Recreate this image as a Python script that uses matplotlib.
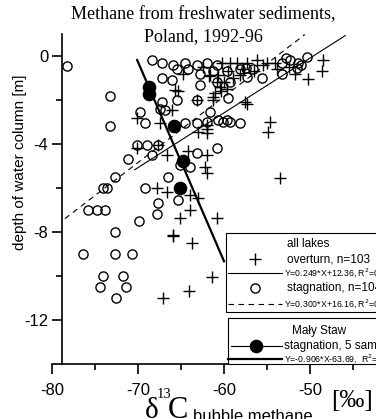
import matplotlib.pyplot as plt
from matplotlib.lines import Line2D
from matplotlib.patches import Rectangle
from matplotlib.ticker import MultipleLocator
import numpy as np

plt.rcParams["axes.unicode_minus"] = False

SANS = "Liberation Sans"
SERIF = "Liberation Serif"

# all lakes, overturn (crosses)
over_x = [-60.2, -59.3, -58.5, -57.3, -56.2, -55.0, -54.1, -48.5, -48.6, -50.2,
          -60.7, -59.0, -58.1, -61.6, -65.3, -61.1, -60.8, -65.7, -63.1, -61.3,
          -57.6, -57.3, -54.7, -54.9, -53.5, -70.1, -67.4, -66.0, -63.0, -62.0,
          -62.0, -70.1, -67.7, -66.6, -64.2, -62.0, -62.2, -62.0, -67.8, -66.6,
          -64.0, -63.0, -64.0, -65.1, -60.8, -65.9, -65.9, -63.7, -61.4, -64.1,
          -67.1, -62.5, -61.8, -60.0, -59.5, -57.8, -56.5, -55.5, -53.8, -52.5,
          -51.8, -64.8, -60.3, -59.6, -61.3, -60.5, -62.0]
over_y = [-0.3, -0.3, -0.3, -0.3, -0.2, -0.3, -0.3, -0.2, -0.7, -1.05,
          -0.85, -1.0, -0.85, -0.85, -1.6, -1.7, -1.2, -1.55, -2.0, -2.0,
          -2.1, -2.2, -3.0, -3.45, -5.55, -2.8, -3.05, -2.45, -3.45, -3.5,
          -3.15, -4.2, -4.05, -4.5, -4.3, -4.5, -5.05, -5.3, -6.0, -6.2,
          -6.3, -6.45, -7.0, -7.35, -7.35, -8.15, -8.2, -8.5, -10.05, -10.7,
          -11.0, -0.5, -0.9, -1.2, -0.7, -0.6, -0.7, -0.4, -0.6, -0.5,
          -0.8, -0.8, -1.6, -1.5, -1.85, -1.4, -3.3]

# all lakes, stagnation (open circles)
stag_x = [-68.4, -67.2, -65.9, -64.5, -63.1, -62.0, -60.8, -65.5, -64.2, -62.8,
          -61.3, -59.7, -58.1, -56.6, -55.6, -53.3, -52.3, -51.4, -50.3, -53.3,
          -51.5, -67.2, -66.0, -62.8, -60.8, -59.3, -57.3, -78.3, -73.3, -67.2,
          -65.5, -63.1, -59.5, -67.4, -69.8, -69.2, -66.9, -73.3, -64.5, -63.1,
          -62.0, -60.7, -59.7, -61.6, -58.1, -59.3, -60.1, -70.1, -69.0, -67.7,
          -71.2, -68.4, -63.1, -60.8, -65.1, -64.0, -66.5, -72.7, -74.1, -73.6,
          -69.2, -65.3, -67.7, -67.8, -69.9, -75.8, -74.8, -73.8, -72.7, -76.4,
          -72.7, -70.7, -74.1, -71.7, -74.4, -71.4, -72.6, -52.8, -51.0, -57.5]
stag_y = [-0.2, -0.3, -0.4, -0.3, -0.4, -0.3, -0.4, -0.6, -0.6, -0.8,
          -0.7, -0.7, -0.6, -0.6, -1.0, -0.3, -0.2, -0.3, -0.05, -0.8,
          -0.55, -1.0, -1.1, -1.3, -1.2, -1.2, -0.95, -0.45, -1.8, -2.1,
          -2.0, -2.0, -1.9, -2.4, -2.55, -3.05, -2.45, -3.2, -3.05, -3.05,
          -3.0, -2.9, -2.9, -2.55, -3.05, -3.0, -3.0, -4.05, -4.05, -4.05,
          -4.7, -4.5, -4.4, -4.2, -4.95, -5.05, -5.5, -5.5, -6.0, -6.0,
          -6.0, -6.55, -6.7, -7.2, -7.5, -7.0, -7.0, -7.0, -8.0, -9.0,
          -9.0, -9.0, -10.0, -10.0, -10.5, -10.5, -11.0, -0.1, -0.4, -0.55]

# Maly Staw, stagnation (filled circles)
maly_x = [-68.7, -68.7, -65.8, -64.8, -65.1]
maly_y = [-1.41, -1.73, -3.18, -4.77, -6.0]

# regression lines: (slope, intercept, x range)
fit_over = (0.249, 12.36, (-70.4, -45.9))
fit_stag = (0.300, 16.16, (-78.5, -50.6))
fit_maly = (-0.906, -63.69, (-70.1, -60.0))

W, H = 376, 419
fig = plt.figure(figsize=(W / 100, H / 100), dpi=100)


def fx(px):
    return px / W


def fy(py):
    return 1 - py / H


ax = fig.add_axes([0, fy(364), 1, fy(20) - fy(364)])
ax.set_xlim(-86.05, -42.33)
ax.set_ylim(-14.0, 1.64)

for (a, b, (x0, x1)), ls, lw in [(fit_over, "-", 0.8), (fit_stag, (0, (5, 4)), 0.8),
                                 (fit_maly, "-", 1.6)]:
    xs = np.array([x0, x1])
    ax.plot(xs, a * xs + b, color="black", linestyle=ls, lw=lw, zorder=2)

ax.plot(stag_x, stag_y, "o", mfc="none", mec="black", ms=6.6, mew=1.0, zorder=3)
ax.plot(over_x, over_y, "+", color="black", ms=9, mew=1.0, zorder=3)
ax.plot(maly_x, maly_y, "o", color="black", ms=8.8, zorder=4)

for s in ["top", "right"]:
    ax.spines[s].set_visible(False)
ax.spines["left"].set_position(("data", -78.88))
ax.spines["left"].set_bounds(-14.0, 1.0)
ax.spines["bottom"].set_bounds(-80, -40)
for s in ["left", "bottom"]:
    ax.spines[s].set_linewidth(1.2)

ax.set_xticks([-80, -70, -60, -50])
ax.xaxis.set_minor_locator(MultipleLocator(5))
ax.set_yticks([0, -4, -8, -12])
ax.set_yticks([-2, -6, -10], minor=True)
ax.set_xticks([-75, -65, -55, -45], minor=True)
ax.tick_params(which="major", direction="out", length=7.5, width=1.2, labelsize=12)
ax.tick_params(which="minor", direction="out", length=4.3, width=1.2)
ax.tick_params(axis="x", pad=6)
ax.tick_params(axis="y", pad=2)
for lab in ax.get_xticklabels() + ax.get_yticklabels():
    lab.set_fontfamily(SANS)

# title
fig.text(fx(203), fy(15), "Methane from freshwater sediments,", family=SERIF,
         fontsize=13, ha="center", va="center")
fig.text(fx(203), fy(37), "Poland, 1992-96", family=SERIF,
         fontsize=13, ha="center", va="center")

# axis labels
fig.text(fx(20), fy(162), "depth of water column [m]", family=SANS, fontsize=11,
         rotation=90, ha="center", va="center")
fig.text(fx(145), fy(418), "\u03b4", family=SERIF, fontsize=21, ha="left", va="baseline")
fig.text(fx(157), fy(398), "13", family=SERIF, fontsize=10.5, ha="left", va="baseline")
fig.text(fx(168), fy(418), "C", family=SERIF, fontsize=22, ha="left", va="baseline")
fig.text(fx(193), fy(421), "bubble methane", family=SANS, fontsize=12, ha="left",
         va="baseline")
fig.text(fx(352), fy(401), "[\u2030]", family=SERIF, fontsize=18, ha="center",
         va="center")

# legend box 1: all lakes
fig.add_artist(Rectangle((fx(226), fy(312)), fx(400) - fx(226), fy(233) - fy(312),
                         transform=fig.transFigure, fill=True, fc="white",
                         ec="black", lw=0.8, zorder=5))
fig.text(fx(287), fy(244), "all lakes", family=SANS, fontsize=8.5, va="center", zorder=6)
fig.add_artist(Line2D([fx(255)], [fy(259)], marker="+", color="black", ms=9, mew=1.0,
                      transform=fig.transFigure, zorder=6))
fig.text(fx(287), fy(259), "overturn, n=103", family=SANS, fontsize=8.5, va="center", zorder=6)
fig.add_artist(Line2D([fx(228), fx(282)], [fy(273), fy(273)], color="black", lw=0.8,
                      transform=fig.transFigure, zorder=6))
fig.text(fx(284), fy(273), "Y=0.249*X+12.36, R$^2$=0.41", family=SANS, fontsize=6.3,
         va="center", zorder=6)
fig.add_artist(Line2D([fx(255)], [fy(288)], marker="o", mfc="none", mec="black", ms=6.6,
                      mew=1.0, transform=fig.transFigure, zorder=6))
fig.text(fx(287), fy(288), "stagnation, n=104", family=SANS, fontsize=8.5, va="center",
         zorder=6)
fig.add_artist(Line2D([fx(228), fx(282)], [fy(304), fy(304)], color="black", lw=0.8,
                      linestyle=(0, (5, 4)), transform=fig.transFigure, zorder=6))
fig.text(fx(284), fy(304), "Y=0.300*X+16.16, R$^2$=0.47", family=SANS, fontsize=6.3,
         va="center", zorder=6)

# legend box 2: Maly Staw
fig.add_artist(Rectangle((fx(228), fy(364)), fx(400) - fx(228), fy(318) - fy(364),
                         transform=fig.transFigure, fill=True, fc="white",
                         ec="black", lw=0.8, zorder=5))
fig.text(fx(292), fy(331), "Mały Staw", family=SANS, fontsize=8.5, va="center", zorder=6)
fig.add_artist(Line2D([fx(231), fx(282)], [fy(346), fy(346)], color="black", lw=0.8,
                      transform=fig.transFigure, zorder=6))
fig.add_artist(Line2D([fx(256)], [fy(346)], marker="o", color="black", ms=8.8,
                      transform=fig.transFigure, zorder=6))
fig.text(fx(284), fy(346), "stagnation, 5 samples", family=SANS, fontsize=8.5,
         va="center", zorder=6)
fig.add_artist(Line2D([fx(228), fx(282)], [fy(359), fy(359)], color="black", lw=1.6,
                      transform=fig.transFigure, zorder=6))
fig.text(fx(284), fy(359), "Y=-0.906*X-63.69,  R$^2$=0.92", family=SANS, fontsize=6.3,
         va="center", zorder=6)

fig.savefig("out.png", dpi=100)
